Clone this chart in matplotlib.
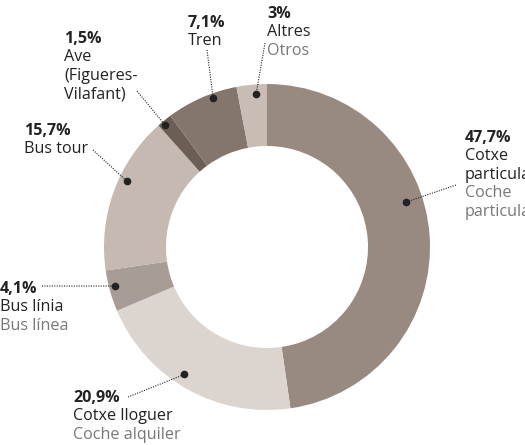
import matplotlib
matplotlib.use("Agg")
import matplotlib.pyplot as plt
import numpy as np

# ---- data ----
values = [47.7, 20.9, 4.1, 15.7, 1.5, 7.1, 3.0]
labels_ca = ["Cotxe\nparticular", "Cotxe lloguer", "Bus línia", "Bus tour",
             "Ave\n(Figueres-\nVilafant)", "Tren", "Altres"]
labels_es = ["Coche\nparticular", "Coche alquiler", "Bus línea", "", "", "", "Otros"]
colors = ["#998a81", "#dcd4ce", "#a89c96", "#c5b9b1", "#6d5e55", "#85766d", "#c8bcb5"]

# ---- layout (pixels) ----
W, H = 525, 445
CX, CY, R = 267, 247, 163
INNER = 101

# text anchor (x, first baseline), leader start, dot angle (deg), dot radius (px)
text_pos = [(465, 142), (73, 402), (0, 293), (24, 135), (64, 43), (188, 27), (267, 18)]
leader_start = [(456, 185), (128, 397), (42, 286), (93, 150), (137, 91), (207, 50), (265, 43)]
dot_angle = [17.9, -123.0, -165.6, 154.8, 129.9, 109.9, 94.1]
dot_r = [146, 152, 157, 155, 159, 158, 153]
STEP = 18.4

def px(x, y):
    return ((x - CX) / R, (CY - y) / R)

plt.rcParams['font.family'] = ['Open Sans', 'DejaVu Sans']
fig = plt.figure(figsize=(W / 100, H / 100), dpi=100)
ax = fig.add_axes([0, 0, 1, 1])
ax.pie(values, colors=colors, startangle=90, counterclock=False, radius=1,
       wedgeprops=dict(width=(R - INNER) / R, linewidth=0))
x0, y0 = px(0, 0)
x1, y1 = px(W, H)
ax.set_xlim(x0, x1)
ax.set_ylim(y1, y0)
ax.set_aspect('auto')
ax.axis('off')

def fmt(v):
    return (f"{v:.0f}%" if float(v).is_integer() else f"{v:.1f}%".replace('.', ','))

dark = "#222222"
grey = "#777777"
fs = 11.6
for i, v in enumerate(values):
    tx, ty = text_pos[i]
    lines = [(fmt(v), dark, 'bold')]
    lines += [(l, dark, 'normal') for l in labels_ca[i].split('\n')]
    if labels_es[i]:
        lines += [(l, grey, 'normal') for l in labels_es[i].split('\n')]
    for k, (t, c, w) in enumerate(lines):
        ax.text(*px(tx, ty + k * STEP), t, color=c, fontsize=fs, fontweight=w,
                ha='left', va='baseline')
    a = np.deg2rad(dot_angle[i])
    dx, dy = dot_r[i] * np.cos(a) / R, dot_r[i] * np.sin(a) / R
    sx, sy = px(*leader_start[i])
    ax.plot([sx, dx], [sy, dy], color=dark, linestyle=(0, (1, 1.2)), linewidth=0.8)
    ax.plot([dx], [dy], 'o', color=dark, markersize=4.5)

fig.savefig("out.png", dpi=100)
